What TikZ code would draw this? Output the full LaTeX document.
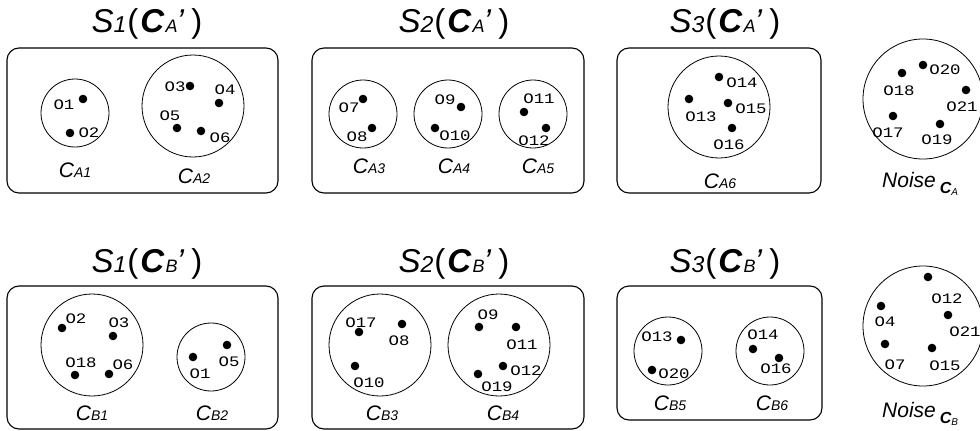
\documentclass[tikz,border=0pt]{standalone}
\usepackage{fontspec}
\setmainfont{Liberation Sans}
\newfontfamily\objfont[FakeStretch=1.2]{Liberation Mono}
\usetikzlibrary{positioning}
\tikzset{
  grp/.style={draw, line width=1.1pt, rounded corners=12pt},
  clu/.style={draw, circle, line width=0.8pt, inner sep=0pt},
  obj/.style={circle, fill, inner sep=0pt, minimum size=8.6pt},
  olb/.style={font=\fontsize{14.5}{14.5}\selectfont\objfont, inner sep=0pt},
  clb/.style={font=\fontsize{21}{21}\selectfont\itshape, inner sep=0pt},
  ttl/.style={font=\fontsize{33}{33}\selectfont, inner sep=0pt}}
\newcommand{\stitle}[2]{\textit{S}{\fontsize{23}{23}\selectfont\textit{#1}}\kern1pt(\kern2pt\textbf{\textit{C}}\kern1pt{\fontsize{18}{18}\selectfont\textit{#2}}\kern-1pt\textit{'}\kern7pt)}
\newcommand{\clabel}[1]{C{\fontsize{14}{14}\selectfont #1}}
\newcommand{\nlabel}[1]{\textit{Noise}\kern4pt\raisebox{-6pt}{\fontsize{16}{16}\selectfont\textbf{\textit{C}}\raisebox{-2pt}{\fontsize{10}{10}\selectfont\textit{#1}}}}

\begin{document}
\begin{tikzpicture}[x=1pt, y=-1pt]
\useasboundingbox (0,0) rectangle (980,431);
% group boxes
\foreach \n/\xa/\ya/\xb/\yb in {a1/7/48/278/193, a2/312/48/584/193, a3/617/48/821/193,
  b1/7/286/278/429, b2/312/286/584/429, b3/617/286/822/420}
  \draw[grp] (\xa,\ya) rectangle (\xb,\yb);
\foreach \n/\x/\y/\s/\c in {a1/147/24/1/A, a2/454/24/2/A, a3/725/24/3/A,
  b1/147/264/1/B, b2/454/264/2/B, b3/725/264/3/B}
  \node[ttl] (t\n) at (\x,\y) {\stitle{\s}{\c}};
% clusters
\foreach \n/\x/\y/\d/\lx/\ly/\l in {ca1/75/113/68/75/170/A1, ca2/193/106/102/194/176/A2,
  ca3/363/114/68/369/166/A3, ca4/448/114/68/454/166/A4, ca5/533/114/68/538/166/A5,
  ca6/719/107/102/720/181/A6,
  cb1/92/345/102/92/413/B1, cb2/211/357/68/212/413/B2, cb3/380/345/102/382/413/B3,
  cb4/499/345/102/503/413/B4, cb5/668/351/68/670/403/B5, cb6/770/351/68/772/403/B6} {
  \node[clu, minimum size=\d pt] (\n) at (\x,\y) {};
  \node[clb] (l\n) at (\lx,\ly) {\clabel{\l}};}
\node[clu, minimum size=120pt] (na) at (923,99) {};
\node[clb, anchor=base west] (lna) at (882,187) {\nlabel{A}};
\node[clu, minimum size=120pt] (nb) at (923,326) {};
\node[clb, anchor=base west] (lnb) at (882,417) {\nlabel{B}};
% objects, first row
\foreach \k/\x/\y/\u/\v in {1/83/99/64/105, 2/70/133/89/133, 3/190/86/175/87, 4/219/103/225/90,
  5/177/128/170/116, 6/201/131/220/138, 7/363/99/349/108, 8/372/128/357/137,
  9/461/107/445/100, 10/435/128/455/136, 11/524/112/539/99, 12/546/128/534/141,
  13/689/99/701/117, 14/719/77/742/83, 15/728/103/751/109, 16/732/128/729/145,
  17/893/116/888/133, 18/902/73/899/91, 19/940/124/937/140, 20/923/65/945/70, 21/966/90/962/107} {
  \node[obj] (a\k) at (\x,\y) {};
  \node[olb] (la\k) at (\u,\v) {O\k};}
% objects, second row
\foreach \k/\x/\y/\u/\v in {2/62/328/76/319, 3/113/336/119/323, 18/75/375/81/363, 6/109/374/123/365,
  5/227/345/229/362, 1/193/357/200/374, 17/359/332/361/323, 8/402/324/399/341,
  10/355/366/369/383, 9/479/327/488/315, 11/516/327/522/345, 12/503/366/526/371,
  19/478/374/497/387, 13/681/340/657/337, 20/652/370/674/374, 14/753/349/763/335,
  16/779/358/776/369, 12/928/277/947/299, 4/881/306/885/322, 21/948/315/965/332,
  7/885/344/895/365, 15/932/348/945/366} {
  \node[obj] (b\k) at (\x,\y) {};
  \node[olb] (lb\k) at (\u,\v) {O\k};}
\end{tikzpicture}
\end{document}
